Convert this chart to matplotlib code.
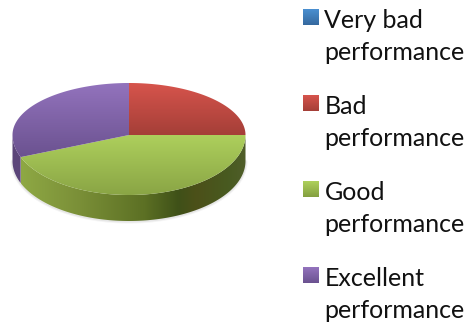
import numpy as np
import matplotlib
matplotlib.use("Agg")
import matplotlib.pyplot as plt
from matplotlib.colors import LinearSegmentedColormap as LSC
from matplotlib.patches import Polygon

categories = ["Very bad\nperformance", "Bad\nperformance", "Good\nperformance", "Excellent\nperformance"]
values = [0, 25, 44, 31]
face_top = ["#4a8fd0", "#d6544c", "#adcf5c", "#9373bd"]
face_bot = ["#34699f", "#a53f38", "#8aa545", "#6b5290"]
legend_top = ["#4a8fd0", "#d6544c", "#aed05c", "#9373bd"]
legend_bot = ["#35699f", "#a53f38", "#84a040", "#6b5290"]
green_side_x = [0.0, 0.25, 0.55, 0.7, 0.78, 0.92, 1.0]
green_side_c = ["#8ea844", "#7b9038", "#5c7024", "#3f5118", "#4c5019", "#485a20", "#505e2a"]
purple_side = "#5b4579"

plt.rcParams['font.family'] = ['Lato', 'DejaVu Sans']
fig = plt.figure(figsize=(4.72, 3.25), dpi=100)
ax = fig.add_axes([0, 0, 1, 1])
ax.axis('off')

cx, cy, rx, ry_up, ry_dn, depth = 129, 135, 116.5, 52, 60, 26

def ell(t):
    t = np.asarray(t, float)
    s = np.sin(t)
    return cx + rx*np.cos(t), cy - np.where(s > 0, ry_up, ry_dn)*s

frac = np.cumsum([0] + values) / sum(values)
angles = np.pi/2 - 2*np.pi*frac

# soft grey rim shadow
tt = np.linspace(0, -np.pi, 120)
for w, a in zip([3, 1.6], [0.04, 0.06]):
    x, y = ell(tt)
    ax.plot(x, y + depth + .5, color='k', lw=w, alpha=a, solid_capstyle='round', zorder=1)

grad = LSC.from_list('g', list(zip(green_side_x, green_side_c)))
x_left, x_right = ell(angles[3])[0], cx + rx
for i in range(len(values)):
    lo, hi = max(angles[i+1], -np.pi), min(angles[i], 0)
    if hi <= lo:
        continue
    t = np.linspace(hi, lo, 150)
    x, y = ell(t)
    pts = np.r_[np.c_[x, y], np.c_[x[::-1], y[::-1] + depth]]
    if i == 2:
        poly = Polygon(pts, closed=True, fc='none', ec='none', transform=ax.transData)
        ax.add_patch(poly)
        im = ax.imshow(np.linspace(0, 1, 256)[None, :], cmap=grad, aspect='auto',
                       extent=[x_left, x_right, cy + ry_dn + depth + 1, cy - 1],
                       zorder=2, interpolation='bilinear')
        im.set_clip_path(poly)
    else:
        ax.add_patch(Polygon(pts, closed=True, fc=purple_side, ec='none', zorder=2))

for i in range(len(values)):
    if values[i] == 0:
        continue
    t = np.linspace(angles[i], angles[i+1], 120)
    x, y = ell(t)
    pts = np.r_[[[cx, cy]], np.c_[x, y]]
    poly = Polygon(pts, closed=True, fc='none', ec='none', transform=ax.transData)
    ax.add_patch(poly)
    y0, y1 = pts[:, 1].min(), pts[:, 1].max()
    cm = LSC.from_list('f', [face_top[i], face_bot[i]])
    im = ax.imshow(np.linspace(0, 1, 64)[:, None], cmap=cm, aspect='auto',
                   extent=[cx-rx-1, cx+rx+1, y1, y0], zorder=3, interpolation='bilinear')
    im.set_clip_path(poly)

leg_y = [9, 95, 181, 267]
for lab, yy, c0, c1 in zip(categories, leg_y, legend_top, legend_bot):
    cm = LSC.from_list('l', [c0, c1])
    ax.imshow(np.linspace(0, 1, 32)[:, None], cmap=cm, aspect='auto',
              extent=[303, 319, yy + 16, yy], zorder=3)
    l1, l2 = lab.split("\n")
    ax.text(324.5, yy + 11.5, l1, fontsize=18.0, color='#111111', va='center', ha='left')
    ax.text(324.5, yy + 43.5, l2, fontsize=18.0, color='#111111', va='center', ha='left')

ax.set_xlim(0, 472)
ax.set_ylim(325, 0)
fig.savefig("out.png", dpi=100, facecolor='white')
